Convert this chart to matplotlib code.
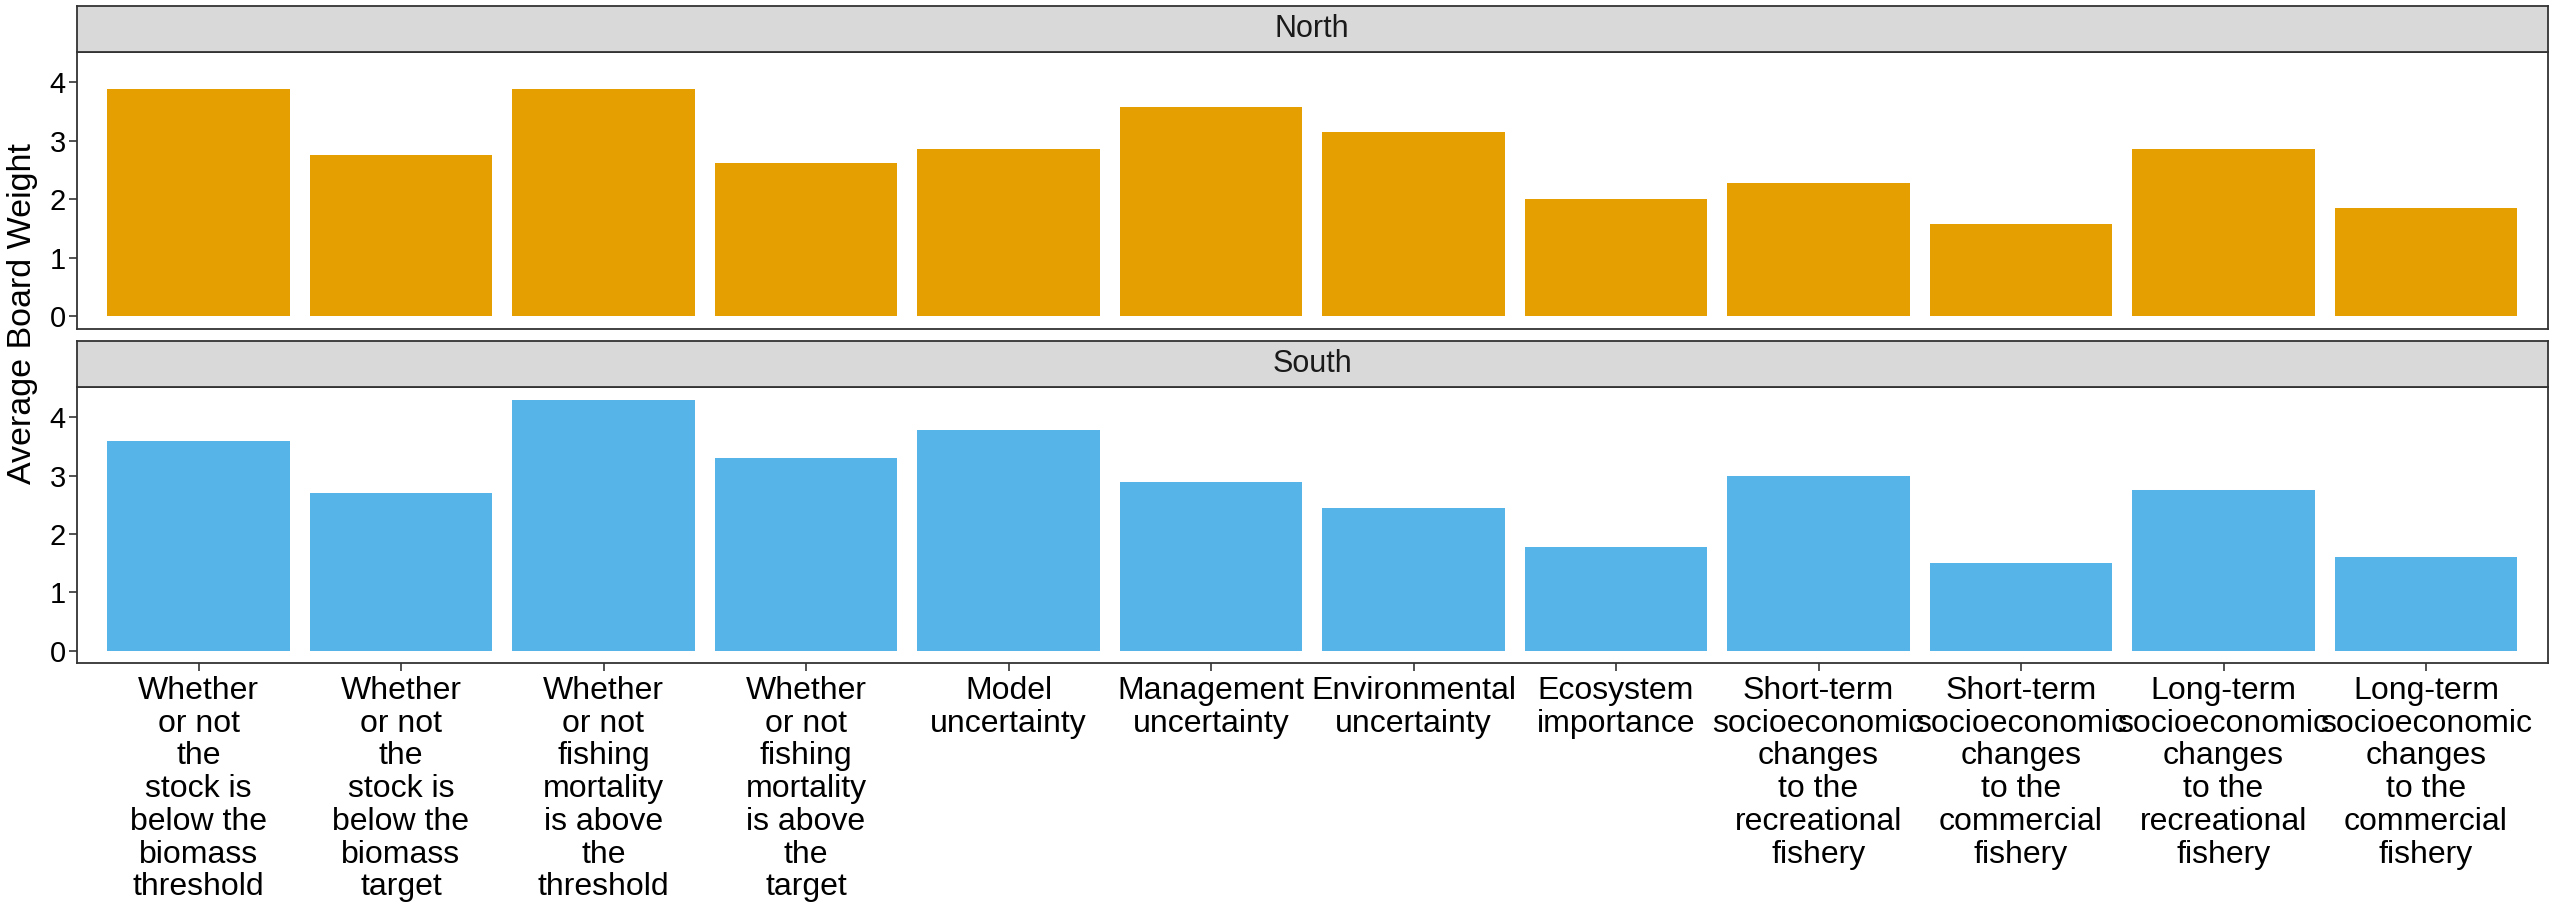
import matplotlib
matplotlib.use("Agg")
import matplotlib.pyplot as plt
import numpy as np

plt.rcParams['font.family'] = ['Liberation Sans', 'DejaVu Sans']

categories = [
    "Whether\nor not\nthe\nstock is\nbelow the\nbiomass\nthreshold",
    "Whether\nor not\nthe\nstock is\nbelow the\nbiomass\ntarget",
    "Whether\nor not\nfishing\nmortality\nis above\nthe\nthreshold",
    "Whether\nor not\nfishing\nmortality\nis above\nthe\ntarget",
    "Model\nuncertainty",
    "Management\nuncertainty",
    "Environmental\nuncertainty",
    "Ecosystem\nimportance",
    "Short-term\nsocioeconomic\nchanges\nto the\nrecreational\nfishery",
    "Short-term\nsocioeconomic\nchanges\nto the\ncommercial\nfishery",
    "Long-term\nsocioeconomic\nchanges\nto the\nrecreational\nfishery",
    "Long-term\nsocioeconomic\nchanges\nto the\ncommercial\nfishery",
]
north_values = [3.875, 2.75, 3.875, 2.625, 2.857, 3.571, 3.143, 2.0, 2.286, 1.571, 2.857, 1.857]
south_values = [3.6, 2.7, 4.3, 3.3, 3.78, 2.89, 2.44, 1.78, 3.0, 1.5, 2.75, 1.6]
panels = ["North", "South"]
yticks = [0, 1, 2, 3, 4]

W, H = 2549, 911
fig = plt.figure(figsize=(W / 100, H / 100), dpi=100)

def fx(px):
    return px / W

def fy(px):
    return 1 - px / H

left_px, right_px = 77, 2547.5
layout = [
    # strip top, strip bottom/panel top, panel bottom
    (6, 52, 329),
    (341, 387.3, 663.3),
]
colors = ["#E69F00", "#56B4E9"]
edge = "#333333"
x = np.arange(len(categories))
ymax = max(max(north_values), max(south_values))
pad = 0.05 * ymax

for i, (name, vals) in enumerate(zip(panels, [north_values, south_values])):
    st, pt, pb = layout[i]
    ax = fig.add_axes([fx(left_px), fy(pb), fx(right_px - left_px), (pb - pt) / H])
    ax.bar(x, vals, width=0.9, color=colors[i])
    ax.set_xlim(-0.6, len(categories) - 0.4)
    ax.set_ylim(-pad, ymax + pad)
    ax.set_yticks(yticks)
    ax.set_yticklabels([str(t) for t in yticks], fontsize=21)
    for s in ax.spines.values():
        s.set_color(edge)
        s.set_linewidth(1.3)
    ax.tick_params(axis='y', length=6, width=1.2, color=edge, pad=2, labelcolor='black')
    if i == 1:
        ax.set_xticks(x)
        ax.set_xticklabels(categories, fontsize=23, linespacing=1.12, va='top')
        ax.tick_params(axis='x', length=6, width=1.2, color=edge, pad=3, labelcolor='black')
    else:
        ax.set_xticks([])
    # strip
    sax = fig.add_axes([fx(left_px), fy(pt), fx(right_px - left_px), (pt - st) / H])
    sax.set_facecolor("#D9D9D9")
    sax.set_xticks([])
    sax.set_yticks([])
    for s in sax.spines.values():
        s.set_color(edge)
        s.set_linewidth(1.3)
    sax.text(0.5, 0.5, name, ha='center', va='center', fontsize=22, color='#1A1A1A',
             transform=sax.transAxes)

fig.text(fx(23), fy(313), "Average Board Weight", rotation=90, ha='center', va='center',
         fontsize=24.5)

fig.savefig("out.png", dpi=100)
